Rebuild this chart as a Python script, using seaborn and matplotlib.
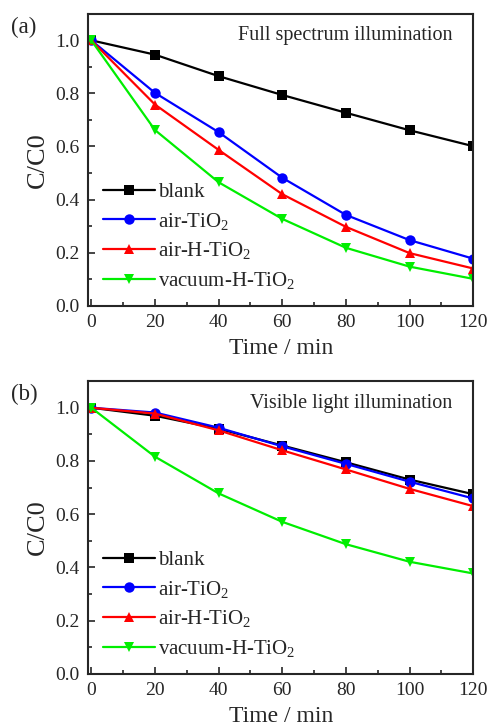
import numpy as np
import pandas as pd
import matplotlib.pyplot as plt
from matplotlib.ticker import MultipleLocator
import seaborn as sns

time = [0, 20, 40, 60, 80, 100, 120]
samples = ['blank', 'air-TiO2', 'air-H-TiO2', 'vacuum-H-TiO2']

# panel (a): full spectrum
full_blank = [1.0, 0.946, 0.865, 0.794, 0.727, 0.661, 0.601]
full_air = [1.0, 0.802, 0.654, 0.482, 0.342, 0.247, 0.177]
full_airH = [1.0, 0.758, 0.587, 0.42, 0.297, 0.198, 0.140]
full_vac = [1.0, 0.662, 0.465, 0.327, 0.218, 0.147, 0.101]

# panel (b): visible light
vis_blank = [1.0, 0.970, 0.921, 0.858, 0.795, 0.730, 0.675]
vis_air = [1.0, 0.982, 0.925, 0.855, 0.789, 0.722, 0.659]
vis_airH = [1.0, 0.978, 0.915, 0.840, 0.768, 0.695, 0.630]
vis_vac = [1.0, 0.816, 0.678, 0.571, 0.487, 0.421, 0.377]

yticks = [0.0, 0.2, 0.4, 0.6, 0.8, 1.0]
legend_labels = ['blank', 'air-TiO$_2$', 'air-H-TiO$_2$', 'vacuum-H-TiO$_2$']
colors = ['#000000', '#0000ff', '#ff0000', '#00ee00']
marker_list = ['s', 'o', '^', 'v']

sns.set_style('ticks')
plt.rcParams['font.family'] = ['Liberation Serif', 'DejaVu Serif']
plt.rcParams['mathtext.fontset'] = 'custom'
plt.rcParams['mathtext.rm'] = 'Liberation Serif'
plt.rcParams['mathtext.it'] = 'Liberation Serif:italic'


def make_df(series):
    rows = []
    for name, vals in zip(samples, series):
        for t, v in zip(time, vals):
            rows.append({'time': t, 'ratio': v, 'sample': name})
    return pd.DataFrame(rows)


def draw_panel(ax, series, note, tag):
    df = make_df(series)
    sns.lineplot(data=df, x='time', y='ratio', hue='sample', style='sample',
                 palette=dict(zip(samples, colors)),
                 markers=dict(zip(samples, marker_list)), dashes=False,
                 linewidth=1.6, markersize=7.5, markeredgewidth=0, ax=ax)
    ax.set_xlim(-1, 120)
    ax.set_ylim(0, 1.1)
    ax.set_xticks(time)
    ax.set_xticklabels([str(t) for t in time])
    ax.xaxis.set_minor_locator(MultipleLocator(10))
    ax.set_yticks(yticks)
    ax.set_yticklabels(['%.1f' % v for v in yticks])
    ax.yaxis.set_minor_locator(MultipleLocator(0.1))
    ax.tick_params(which='both', direction='in', top=False, right=False, labelsize=14)
    ax.tick_params(which='major', length=5, width=1.2, pad=6)
    ax.tick_params(which='minor', length=3, width=1.2)
    for sp in ax.spines.values():
        sp.set_linewidth(1.5)
    ax.set_xlabel('Time / min', fontsize=17, labelpad=5)
    ax.set_ylabel('C/C0', fontsize=19, labelpad=5)
    handles, _ = ax.get_legend_handles_labels()
    ax.legend(handles, legend_labels, loc='lower left', bbox_to_anchor=(0.0, 0.0),
              frameon=False, fontsize=15, handlelength=2.5, handletextpad=0.15,
              labelspacing=0.42, borderaxespad=0.3)
    ax.text(0.945, 0.925, note, transform=ax.transAxes, ha='right', va='center', fontsize=14.5)
    pos = ax.get_position()
    ax.figure.text(0.022, pos.y1 - 0.004, tag, fontsize=16.5, ha='left', va='top')


fig = plt.figure(figsize=(4.95, 7.26), dpi=100)
ax1 = fig.add_axes([0.178, 0.579, 0.778, 0.402])
ax2 = fig.add_axes([0.178, 0.072, 0.778, 0.403])

draw_panel(ax1, [full_blank, full_air, full_airH, full_vac], 'Full spectrum illumination', '(a)')
draw_panel(ax2, [vis_blank, vis_air, vis_airH, vis_vac], 'Visible light illumination', '(b)')

fig.savefig('out.png', dpi=100)
